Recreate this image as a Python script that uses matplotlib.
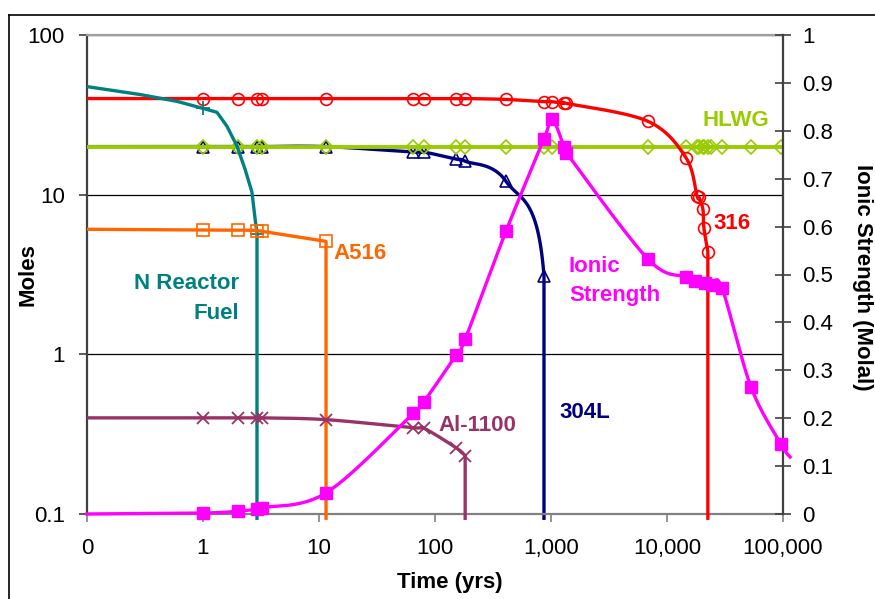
import numpy as np
import matplotlib
matplotlib.use("Agg")
import matplotlib.pyplot as plt
from matplotlib.lines import Line2D

plt.rcParams['font.family'] = ['Liberation Sans', 'DejaVu Sans']

# ---------------- data ----------------
# 316 stainless (moles)
red_t = [0.1, 1, 2, 2.9, 3.2, 11.5, 65, 80, 152, 182, 410, 870, 1020, 1300, 1360,
         6860, 14600, 18150, 18900, 20400, 20800, 22500]
red_y = [40, 40, 40, 40, 40, 40, 40, 40, 40, 40, 39.5, 38.2, 38.2, 37.3, 37.3,
         28.8, 17.0, 9.8, 9.6, 8.1, 6.2, 4.4]

# HLWG (moles)
hlwg_t = [0.1, 1, 2, 2.9, 3.2, 11.5, 65, 80, 152, 182, 410, 870, 1020, 6860, 14600,
          18150, 18900, 20400, 20800, 22500, 23900, 29800, 53000, 96000]
hlwg_y = [20] * len(hlwg_t)

# 304L (moles)
ss304_t = [0.1, 1, 2, 2.9, 3.2, 11.5, 65, 80, 152, 182, 410, 870]
ss304_y = [20, 20, 20, 20, 20, 20, 18.5, 18.5, 16.7, 16.2, 12.1, 3.1]

# A516 (moles)
a516_t = [0.1, 1, 2, 2.9, 3.2, 11.5]
a516_y = [6.07, 6.0, 6.0, 5.96, 5.9, 5.1]

# Al-1100 (moles)
al_t = [0.1, 1, 2, 2.9, 3.2, 11.5, 65, 80, 152, 182]
al_y = [0.40, 0.40, 0.40, 0.40, 0.40, 0.39, 0.347, 0.345, 0.26, 0.232]

# N Reactor Fuel (moles)
fuel_t = [0.1, 0.286, 0.597, 1.0, 1.32, 1.61, 1.96, 2.30, 2.64, 2.81, 2.92]
fuel_y = [47.5, 42.4, 38.4, 34.7, 32.8, 26.8, 20.2, 14.5, 10.4, 7.1, 5.7]

# Ionic strength (molal, right axis)
ionic_t = [0.1, 1, 2, 2.9, 3.2, 11.5, 65, 80, 152, 182, 410, 870, 1020, 1300, 1360,
           6860, 14600, 17400, 21300, 24400, 29800, 53000, 96000, 115000]
ionic_y = [0.0, 0.002, 0.006, 0.010, 0.013, 0.044, 0.21, 0.234, 0.332, 0.365, 0.591,
           0.783, 0.825, 0.766, 0.754, 0.532, 0.495, 0.486, 0.482, 0.478, 0.472,
           0.265, 0.146, 0.119]

ZERO = 0.01   # "fully consumed" stand-in value on the log axis

x_ticks = [0.1, 1, 10, 100, 1000, 10000, 100000]
x_labels = ['0', '1', '10', '100', '1,000', '10,000', '100,000']
yl_ticks = [0.1, 1, 10, 100]
yl_labels = ['0.1', '1', '10', '100']
yr_ticks = [0, 0.1, 0.2, 0.3, 0.4, 0.5, 0.6, 0.7, 0.8, 0.9, 1.0]
yr_labels = ['0', '0.1', '0.2', '0.3', '0.4', '0.5', '0.6', '0.7', '0.8', '0.9', '1']

# ---------------- helpers ----------------
def smooth(t, y, logy=True, next_pt=None, n=30):
    """Excel-like smoothed line (Catmull-Rom Bezier) in display-linear space.
    next_pt: optional following data point used only for the end tangent."""
    f = (lambda a: np.log10(np.asarray(a, float))) if logy else (lambda a: np.asarray(a, float))
    P = np.column_stack([np.log10(np.asarray(t, float)), f(y)])
    m = len(P)
    nxt = None
    if next_pt is not None:
        nxt = np.array([np.log10(next_pt[0]), f([next_pt[1]])[0]])
    out = [P[:1]]
    s = np.linspace(0, 1, n)[1:, None]
    for i in range(m - 1):
        p1, p2 = P[i], P[i + 1]
        p0 = P[i - 1] if i > 0 else p1
        if i + 2 < m:
            p3 = P[i + 2]
        else:
            p3 = nxt if nxt is not None else p2
        c1 = p1 + (p2 - p0) / 6.0
        c2 = p2 - (p3 - p1) / 6.0
        B = ((1 - s) ** 3) * p1 + 3 * ((1 - s) ** 2) * s * c1 + 3 * (1 - s) * s ** 2 * c2 + s ** 3 * p2
        out.append(B)
    C = np.vstack(out)
    xs = 10 ** C[:, 0]
    ys = 10 ** C[:, 1] if logy else C[:, 1]
    return xs, ys


W, H = 875, 599
fig = plt.figure(figsize=(W / 100, H / 100), dpi=100)
ax = fig.add_axes([87 / W, (H - 514) / H, (783 - 87) / W, (514 - 35) / H])
ax.set_xscale('log')
ax.set_yscale('log')
ax.set_xlim(0.1, 1e5)
ax.set_ylim(0.1, 100)

LW = 2.4
DROP_END = 10 ** (-1 - 6 / 161)   # drop lines run a few pixels past the axis


def draw_consumed(tt, yy, color, marker, ms, z, filled=False, mew=1.2, tangent=False):
    nxt = (tt[-1], ZERO) if tangent else None
    xs, ys = smooth(tt, yy, next_pt=nxt)
    xs = np.append(xs, tt[-1])
    ys = np.append(ys, DROP_END)
    ax.plot(xs, ys, color=color, lw=LW, zorder=z, clip_on=False, solid_capstyle='butt')
    ax.plot(tt[1:], yy[1:], ls='none', marker=marker, ms=ms,
            mfc=(color if filled else 'none'), mec=color, mew=mew, zorder=z)


# 304L
draw_consumed(ss304_t, ss304_y, '#000080', '^', 8, 2, tangent=True)

# HLWG
xs, ys = smooth(hlwg_t, hlwg_y)
ax.plot(xs, ys, color='#99CC00', lw=2.8, zorder=3)
ax.plot(hlwg_t[1:], hlwg_y[1:], ls='none', marker='D', ms=7, mfc='none',
        mec='#99CC00', mew=1.2, zorder=3)

# 316
draw_consumed(red_t, red_y, '#FF0000', 'o', 8.5, 4)

# N Reactor fuel
ax.plot(fuel_t + [fuel_t[-1]], fuel_y + [DROP_END], color='#008080', lw=LW,
        marker='+', ms=10, mew=1.3, markevery=[3, 10], zorder=5, clip_on=False,
        solid_capstyle='butt')

# A516
draw_consumed(a516_t, a516_y, '#FF6600', 's', 8.5, 6)

# Al-1100
draw_consumed(al_t, al_y, '#993366', 'x', 9, 7, mew=1.3)

# axes styling (left / bottom)
ax.xaxis.set_minor_locator(matplotlib.ticker.NullLocator())
ax.yaxis.set_minor_locator(matplotlib.ticker.NullLocator())
ax.set_xticks(x_ticks)
ax.set_xticklabels(x_labels)
ax.set_yticks(yl_ticks)
ax.set_yticklabels(yl_labels)
ax.tick_params(axis='x', direction='out', length=6, width=1.2, color='#808080',
               labelsize=16, pad=11)
ax.tick_params(axis='y', direction='out', length=6, width=1.2, color='#404040',
               labelsize=16, pad=10)
ax.yaxis.grid(True, color='black', lw=0.9)
ax.set_axisbelow(True)
ax.spines['left'].set_color('#404040')
ax.spines['left'].set_linewidth(1.6)
ax.spines['bottom'].set_color('#808080')
ax.spines['bottom'].set_linewidth(1.6)
ax.spines['top'].set_color('#A0A0A0')
ax.spines['top'].set_linewidth(1.6)
ax.spines['right'].set_visible(False)

# right axis: ionic strength
ax2 = ax.twinx()
ax2.set_ylim(0, 1)
xs, ys = smooth(ionic_t, ionic_y, logy=False)
ax2.plot(xs, ys, color='#FF00FF', lw=LW, zorder=3, clip_on=False)
ax2.plot(ionic_t[1:-1], ionic_y[1:-1], ls='none', marker='s', ms=8.5,
         mfc='#FF00FF', mec='#FF00FF', zorder=4, clip_on=False)
ax2.set_yticks(yr_ticks)
ax2.set_yticklabels(yr_labels)
ax2.yaxis.set_minor_locator(matplotlib.ticker.NullLocator())
ax2.tick_params(axis='y', direction='inout', length=12, width=1.2, color='#404040',
                labelsize=16, pad=8)
for side in ['left', 'top', 'bottom']:
    ax2.spines[side].set_visible(False)
ax2.spines['right'].set_color('#404040')
ax2.spines['right'].set_linewidth(1.6)

# series labels
bold = dict(fontsize=16, fontweight='bold')
ax.text(2.04, 2.57, 'N Reactor', color='#008080', ha='right', va='baseline', **bold)
ax.text(2.04, 1.67, 'Fuel', color='#008080', ha='right', va='baseline', **bold)
ax.text(13.2, 3.95, 'A516', color='#FF6600', ha='left', va='baseline', **bold)
ax.text(108, 0.333, 'Al-1100', color='#993366', ha='left', va='baseline', **bold)
ax.text(1172, 0.40, '304L', color='#000080', ha='left', va='baseline', **bold)
ax.text(24950, 6.06, '316', color='#FF0000', ha='left', va='baseline', **bold)
ax.text(20050, 26.8, 'HLWG', color='#99CC00', ha='left', va='baseline', **bold)
ax2.text(1429, 0.505, 'Ionic', color='#FF00FF', ha='left', va='baseline', **bold)
ax2.text(1429, 0.445, 'Strength', color='#FF00FF', ha='left', va='baseline', **bold)

# axis titles
fig.text(28 / W, 1 - 275 / H, 'Moles', rotation=90, ha='center', va='center', **bold)
fig.text(450 / W, 1 - 588 / H, 'Time (yrs)', ha='center', va='baseline', **bold)
fig.text(863 / W, 1 - 277 / H, 'Ionic Strength (Molal)', rotation=270,
         ha='center', va='center', **bold)

# outer chart frame (extends past the image on the right and bottom)
fig.add_artist(Line2D([9 / W, 1.0], [1 - 15 / H, 1 - 15 / H], color='black', lw=1.2,
                      transform=fig.transFigure))
fig.add_artist(Line2D([9 / W, 9 / W], [1 - 15 / H, 0.0], color='black', lw=1.2,
                      transform=fig.transFigure))

fig.savefig('out.png', dpi=100)
